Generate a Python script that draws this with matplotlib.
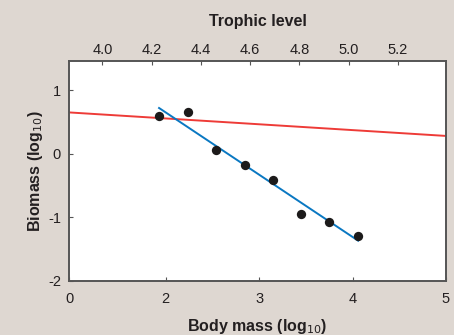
import matplotlib
matplotlib.use("Agg")
import matplotlib.pyplot as plt

# Data
body_mass = [1.93, 2.24, 2.54, 2.85, 3.15, 3.45, 3.75, 4.06]
biomass = [0.59, 0.65, 0.06, -0.17, -0.41, -0.95, -1.07, -1.30]

blue_fit_x = [1.93, 4.06]
blue_fit_y = [0.72, -1.37]
red_fit_x = [0.97, 5.0]
red_fit_y = [0.65, 0.28]

bottom_ticks = [0.97, 2, 3, 4, 5]
bottom_labels = ["0", "2", "3", "4", "5"]
y_ticks = [1, 0, -1, -2]
y_labels = ["1", "0", "-1", "-2"]
top_ticks = [4.0, 4.2, 4.4, 4.6, 4.8, 5.0, 5.2]
top_labels = ["4.0", "4.2", "4.4", "4.6", "4.8", "5.0", "5.2"]

plt.rcParams['font.family'] = ['Liberation Sans', 'DejaVu Sans']

bg = "#ded7d1"
spine_c = "#555555"
text_c = "#231f20"

fig = plt.figure(figsize=(4.54, 3.35), dpi=100, facecolor=bg)
ax = fig.add_axes([0.1527, 0.1621, 0.9824 - 0.1527, 0.8179 - 0.1621])
ax.set_facecolor("white")

ax.plot(red_fit_x, red_fit_y, color="#ee3b37", lw=1.4, zorder=2)
ax.plot(blue_fit_x, blue_fit_y, color="#0a78c2", lw=1.4, zorder=2)
ax.scatter(body_mass, biomass, s=45, color="#1c1a1a", zorder=3, linewidths=0)

ax.set_xlim(0.97, 5.0)
ax.set_ylim(-2, 1.46)
ax.set_xticks(bottom_ticks)
ax.set_xticklabels(bottom_labels)
ax.set_yticks(y_ticks)
ax.set_yticklabels(y_labels)

for s in ax.spines.values():
    s.set_color(spine_c)
    s.set_linewidth(1.2)

ax.tick_params(axis="both", direction="in", length=3, width=0.8, color=spine_c,
               labelsize=10.5, labelcolor=text_c)
ax.tick_params(axis="x", pad=8)
ax.tick_params(axis="y", pad=6)
ax.set_xlabel("Body mass (log$_{10}$)", fontsize=11.5, fontweight="bold", color=text_c, labelpad=8)
ax.set_ylabel("Biomass (log$_{10}$)", fontsize=11.5, fontweight="bold", color=text_c, labelpad=2)

# Top axis: trophic level
ax2 = ax.twiny()
ax2.set_xlim(3.866, 5.395)
ax2.set_xticks(top_ticks)
ax2.set_xticklabels(top_labels)
ax2.tick_params(axis="x", direction="in", length=3, width=0.8, color=spine_c,
                labelsize=10.5, labelcolor=text_c, pad=3)
ax2.set_xlabel("Trophic level", fontsize=11.5, fontweight="bold", color=text_c, labelpad=12)
for s in ax2.spines.values():
    s.set_color(spine_c)
    s.set_linewidth(1.2)

fig.savefig("out.png", dpi=100, facecolor=bg)
